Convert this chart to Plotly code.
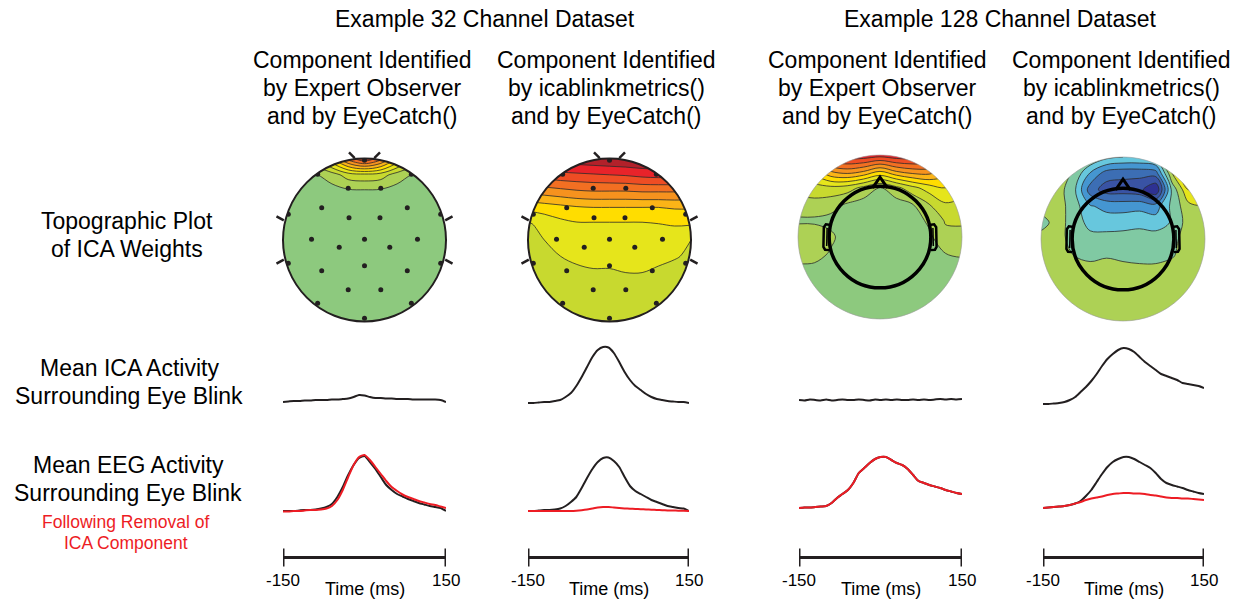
import numpy as np
import plotly.graph_objects as go

W, H = 1242, 599

# ---------------------------------------------------------------- data
dataset_titles = ["Example 32 Channel Dataset", "Example 128 Channel Dataset"]
column_titles = [
    ["Component Identified", "by Expert Observer", "and by EyeCatch()"],
    ["Component Identified", "by icablinkmetrics()", "and by EyeCatch()"],
    ["Component Identified", "by Expert Observer", "and by EyeCatch()"],
    ["Component Identified", "by icablinkmetrics()", "and by EyeCatch()"],
]
row_labels = [
    ["Topographic Plot", "of ICA Weights"],
    ["Mean ICA Activity", "Surrounding Eye Blink"],
    ["Mean EEG Activity", "Surrounding Eye Blink"],
]
removal_label = ["Following Removal of", "ICA Component"]
time_ticks = [-150, 150]
time_tick_text = ["-150", "150"]
time_label = "Time (ms)"

time_ms = list(range(-150, 151, 10))

# mean ICA activity (arbitrary units) per column
ica_c1 = [3, 3.5, 4, 4, 4.5, 4.5, 5, 5, 5, 5.5, 5.5, 6, 6.5, 8, 10, 9.5, 8, 7, 7, 6.5,
          6.5, 6, 6, 6, 5.5, 5.5, 5.5, 5.5, 5.5, 5, 3]
ica_c2 = [2, 2, 2.5, 3, 3, 4, 5, 8, 12, 19, 28, 38, 48, 55, 58, 57.5, 52, 43, 33, 25,
          19, 15, 11, 8, 6, 5, 4, 3.5, 3, 3, 2]
ica_c3 = [5, 4.5, 5.5, 5, 4.5, 5.5, 4.5, 5, 5.5, 5, 5, 5.5, 5, 4.5, 5.5, 5, 5.5, 5, 5.5, 5,
          5, 5.5, 5, 5.5, 5, 5.5, 6, 5.5, 6, 5.5, 6]
ica_c4 = [1, 1, 1.5, 2, 3, 5, 8, 13, 18, 24, 31, 39, 46, 51, 55, 57, 56, 53, 48, 43,
          39, 35, 31, 29, 27, 25, 22, 21, 20, 19, 17]

# mean EEG activity before (black) and after (red) removal of the component
eeg_c1_before = [4, 4, 4, 4.5, 5, 5, 5.5, 6.5, 8, 11, 18, 28, 40, 50, 57, 59, 53, 46, 38, 30,
                 25, 21, 18.5, 16, 14, 12, 10.5, 9, 8, 7, 4]
eeg_c1_after = [3.5, 3.5, 4, 4, 4.5, 5, 5, 5.5, 6.5, 9, 15, 25, 38, 50, 58, 60, 55, 48, 41, 34,
                28, 24, 20.5, 18, 16, 14, 12.5, 11, 10, 8.5, 7]
eeg_c2_before = [4, 4, 4.5, 5, 5, 5.5, 6.5, 9, 13, 18, 27, 37, 46, 53, 57, 57.5, 54, 48, 38, 29,
                 24, 21, 18, 15, 13, 11, 9, 8, 7, 6.5, 4]
eeg_c2_after = [4, 4, 4, 4, 4, 4, 4, 4, 4, 4.3, 4.8, 5.5, 6.5, 7.5, 8, 8, 7.5, 7, 6.6, 6.3,
                6, 5.8, 5.5, 5.3, 5, 4.8, 4.6, 4.5, 4.3, 4.2, 4]
eeg_c3_before = [7, 7.5, 7.5, 8, 8.5, 9, 12, 17, 21, 25, 32, 42, 47, 52, 56, 58, 58, 55, 52, 50,
                 46, 40, 34, 32, 30, 28.5, 27, 25, 23.5, 22, 21]
eeg_c3_after = [7, 7.5, 7.5, 8, 8.5, 9, 12, 17, 21, 25, 32, 42, 47, 52, 56, 58, 58, 55, 52, 50,
                46, 40, 34, 32, 30, 28.5, 27, 25, 23.5, 22, 21]
eeg_c4_before = [7, 7.5, 8, 8.5, 9, 10, 11.5, 14, 19, 25, 33, 41, 48, 53, 56, 58, 58, 56, 53, 50,
                 47, 42, 36, 32, 30, 28.5, 27, 25, 23.5, 22, 21]
eeg_c4_after = [7, 7.5, 8, 8.5, 9, 10, 11.5, 13, 15, 16.5, 17.5, 18.5, 20, 21, 21.5, 22, 22, 21.5,
                21.5, 21, 20, 19.5, 18.5, 17.5, 17, 17, 16.5, 16.5, 16, 15.5, 15]

# 32-channel electrode positions (head radius = 1)
elec_x = [0, -0.575, 0.575, -0.2, 0.2, -0.525, 0.525, -0.935, 0.935, -0.19, 0.19, -0.65, 0,
          0.65, -0.31, 0.31, -0.935, 0.935, 0, -0.525, 0.525, -0.2, 0.2, -0.575, 0.575, 0]
elec_y = [0.98, 0.806, 0.806, 0.634, 0.634, 0.397, 0.397, 0.315, 0.315, 0.274, 0.274, 0.008,
          0.008, 0.008, -0.09, -0.09, -0.286, -0.286, -0.315, -0.376, -0.376, -0.609, -0.609,
          -0.777, -0.777, -0.961]

# topographic weight maps sampled on an 11x11 grid (x,y from -1..1), rows listed top -> bottom
# values are colour-band indices of each map's palette
grid_coord = [-1.0, -0.8, -0.6, -0.4, -0.2, 0.0, 0.2, 0.4, 0.6, 0.8, 1.0]
Z0 = [0] * 11
topo_c1 = [
    [0.3, 1.2, 2.5, 4.5, 7.0, 8.5, 7.0, 4.5, 2.5, 1.2, 0.3],
    [0.0, 0.2, 0.4, 1.0, 2.0, 2.2, 2.0, 1.0, 0.4, 0.2, 0.0],
    [0.0, 0.0, 0.0, 0.1, 0.3, 0.35, 0.3, 0.1, 0.0, 0.0, 0.0],
    Z0, Z0, Z0, Z0, Z0, Z0, Z0, Z0,
]
topo_c2 = [
    [9.5, 9.8, 10.0, 10.2, 10.3, 10.4, 10.5, 10.6, 10.6, 10.5, 10.3],
    [7.8, 8.0, 8.2, 8.3, 8.4, 8.5, 8.6, 8.8, 8.9, 8.9, 8.8],
    [5.8, 6.0, 6.2, 6.4, 6.5, 6.5, 6.5, 6.6, 6.6, 6.6, 6.5],
    [3.8, 4.0, 4.2, 4.4, 4.5, 4.5, 4.5, 4.5, 4.5, 4.6, 4.6],
    [2.4, 2.8, 3.2, 3.4, 3.4, 3.4, 3.4, 3.4, 3.5, 3.6, 3.6],
    [2.2, 2.5, 2.8, 3.0, 3.0, 3.0, 3.0, 3.0, 3.0, 2.9, 2.5],
    [2.1, 2.3, 2.5, 2.7, 2.8, 2.8, 2.8, 2.8, 2.8, 2.6, 2.3],
    [2.0, 2.1, 2.2, 2.3, 2.4, 2.4, 2.5, 2.5, 2.3, 2.1, 2.0],
    [2.0, 2.0, 2.0, 2.1, 2.1, 2.1, 2.1, 2.1, 2.0, 2.0, 2.0],
    [2.0] * 11,
    [2.0] * 11,
]
topo_c3 = [
    [6.0, 7.5, 9.0, 9.3, 9.3, 9.0, 9.3, 9.3, 9.0, 7.5, 6.0],
    [3.0, 4.0, 5.5, 6.0, 5.5, 4.5, 5.5, 6.0, 6.0, 5.0, 4.0],
    [1.8, 2.0, 2.2, 2.0, 1.2, 0.4, 1.2, 2.2, 3.0, 3.5, 3.0],
    [1.2, 1.2, 0.9, 0.4, 0.1, 0.0, 0.1, 0.5, 1.5, 2.4, 2.2],
    [0.3, 0.3, 0.2, 0.0, 0.0, 0.0, 0.0, 0.0, 0.7, 1.6, 1.6],
    [1.3, 1.2, 0.7, 0.0, 0.0, 0.0, 0.0, 0.0, 0.3, 1.2, 1.3],
    [1.0, 0.9, 0.4, 0.0, 0.0, 0.0, 0.0, 0.0, 0.0, 0.5, 0.6],
    [0.2, 0.2, 0.0, 0.0, 0.0, 0.0, 0.0, 0.0, 0.0, 0.0, 0.2],
    Z0, Z0, Z0,
]
topo_c4 = [
    [6.0, 6.0, 6.0, 5.6, 4.8, 4.5, 4.5, 5.0, 8.0, 8.5, 7.5],
    [6.0, 6.0, 5.4, 3.4, 2.0, 1.8, 1.8, 2.0, 6.5, 9.0, 8.0],
    [6.0, 6.0, 4.8, 2.0, 1.0, 1.0, 0.8, -0.5, 4.8, 7.5, 7.0],
    [6.0, 6.0, 5.0, 3.6, 3.2, 3.1, 3.2, 3.0, 4.8, 6.2, 6.5],
    [5.0, 6.0, 5.0, 4.2, 4.0, 4.1, 4.2, 4.0, 4.6, 6.0, 6.5],
    [6.0, 5.8, 5.2, 4.8, 4.9, 4.9, 5.0, 5.0, 5.2, 6.0, 6.5],
    [6.0, 6.0, 5.5, 5.2, 5.4, 5.2, 5.0, 5.0, 5.4, 6.0, 6.0],
    [6.0] * 11, [6.0] * 11, [6.0] * 11, [6.0] * 11,
]

palette_warm = ["#8DC97E", "#ADD155", "#C8D92F", "#E6E51B", "#FFDD00", "#FBB417",
                "#F6921E", "#F26F22", "#EE4D24", "#E8232A", "#B2212A"]
palette_cool = ["#2E3192", "#3953A4", "#3C6EB4", "#4596D1", "#67C7DD", "#80C9A3",
                "#ADD155", "#E6E51B", "#FFDD00", "#FBB417"]

# ---------------------------------------------------------------- layout geometry (pixels)
FONT = "Liberation Sans, Arial, Helvetica, sans-serif"
BLACK = "#231F20"
RED = "#ED1C24"

topo_center = [(364.5, 240), (609.5, 240), (880, 237), (1123, 239)]
topo_radius = [81.5, 81.5, 82, 82]
time_px = [(283, 446), (528, 689), (799, 962), (1043, 1204)]
header_cx = [362, 606, 877, 1121]

fig = go.Figure()
layout = {}
shapes = []
annotations = []


def ax(name, n):
    return name if n == 1 else f"{name}{n}"


def px_x(p):
    return p / W


def px_y(p):
    return 1 - p / H


def circle_pts(r, cx=0.0, cy=0.0, n=160):
    a = np.linspace(0, 2 * np.pi, n, endpoint=False)
    return cx + r * np.cos(a), cy + r * np.sin(a)


def poly_path(xs, ys, close=True):
    s = "M " + " L ".join(f"{x:.4f},{y:.4f}" for x, y in zip(xs, ys))
    return s + (" Z" if close else "")


R = 1.2  # topo axis half-range
topos = [(topo_c1, palette_warm, True), (topo_c2, palette_warm, True),
         (topo_c3, palette_warm, False), (topo_c4, palette_cool, False)]

for c in range(4):
    n = c + 1
    cx, cy = topo_center[c]
    half = topo_radius[c] * R
    xr = f"x{n}" if n > 1 else "x"
    yr = f"y{n}" if n > 1 else "y"
    layout[ax("xaxis", n)] = dict(domain=[px_x(cx - half), px_x(cx + half)], range=[-R, R],
                                  visible=False, anchor=yr, fixedrange=True)
    layout[ax("yaxis", n)] = dict(domain=[px_y(cy + half), px_y(cy - half)], range=[-R, R],
                                  visible=False, anchor=xr, fixedrange=True)
    grid, pal, is32 = topos[c]
    nb = len(pal)
    z = np.array(grid[::-1], dtype=float)
    fig.add_trace(go.Contour(
        x=grid_coord, y=grid_coord, z=z, xaxis=xr, yaxis=yr,
        autocontour=False,
        contours=dict(start=0.5, end=nb - 1.5, size=1, coloring="fill", showlines=True),
        colorscale=[[k / (nb - 1), col] for k, col in enumerate(pal)],
        zmin=0, zmax=nb - 1,
        line=dict(color="#2b2b2b", width=0.8, smoothing=1.0),
        showscale=False, hoverinfo="skip",
    ))
    # white mask outside the scalp disc
    mx, my = circle_pts(1.0)
    mask = f"M {-R},{-R} L {R},{-R} L {R},{R} L {-R},{R} Z " + poly_path(mx, my)
    shapes.append(dict(type="path", path=mask, xref=xr, yref=yr, fillcolor="white",
                       fillrule="evenodd", line=dict(width=0), layer="above"))
    if is32:
        fig.add_trace(go.Scatter(x=elec_x, y=elec_y, xaxis=xr, yaxis=yr, mode="markers",
                                 marker=dict(color=BLACK, size=5), hoverinfo="skip"))
        shapes.append(dict(type="circle", x0=-1, x1=1, y0=-1, y1=1, xref=xr, yref=yr,
                           line=dict(color=BLACK, width=2), layer="above"))
        for sx in (-1, 1):
            shapes.append(dict(type="path", xref=xr, yref=yr, layer="above",
                               path=f"M {sx*0.19},1.075 L {sx*0.12},1.005",
                               line=dict(color=BLACK, width=2.5)))
            for sy in (-1, 1):
                shapes.append(dict(type="path", xref=xr, yref=yr, layer="above",
                                   path=f"M {sx*1.08},{sy*0.29} L {sx*0.99},{sy*0.24}",
                                   line=dict(color=BLACK, width=2.5)))
    else:
        shapes.append(dict(type="circle", x0=-1, x1=1, y0=-1, y1=1, xref=xr, yref=yr,
                           line=dict(color="#9a9a9a", width=0.6), layer="above"))
        hr = 0.62
        shapes.append(dict(type="circle", x0=-hr, x1=hr, y0=-hr, y1=hr, xref=xr, yref=yr,
                           line=dict(color="black", width=3.5), layer="above"))
        shapes.append(dict(type="path", xref=xr, yref=yr, layer="above",
                           path=f"M -0.09,{hr-0.02} L 0,0.73 L 0.09,{hr-0.02}",
                           line=dict(color="black", width=3)))
        for sx in (-1, 1):
            shapes.append(dict(type="path", xref=xr, yref=yr, layer="above",
                               path=(f"M {sx*hr},0.15 L {sx*0.66},0.155 L {sx*0.685},0.12 "
                                     f"L {sx*0.69},-0.12 L {sx*0.67},-0.155 L {sx*hr},-0.16"),
                               line=dict(color="black", width=2.5)))
            shapes.append(dict(type="path", xref=xr, yref=yr, layer="above",
                               path=f"M {sx*0.645},0.11 L {sx*0.65},-0.11",
                               line=dict(color="black", width=1.5)))

# ---------------------------------------------------------------- time-course panels
ica_all = [ica_c1, ica_c2, ica_c3, ica_c4]
eeg_before = [eeg_c1_before, eeg_c2_before, eeg_c3_before, eeg_c4_before]
eeg_after = [eeg_c1_after, eeg_c2_after, eeg_c3_after, eeg_c4_after]

ICA_PX = (330, 415, 405)   # top, bottom, zero line
EEG_PX = (440, 525, 515)
BAR_PX = (547, 568)

for c in range(4):
    xn = 5 + c
    y_ica, y_eeg, y_bar = 5 + c, 9 + c, 13 + c
    x0, x1 = time_px[c]
    layout[f"xaxis{xn}"] = dict(domain=[px_x(x0), px_x(x1)], range=[-150, 150], visible=False,
                                anchor=f"y{y_bar}", fixedrange=True)
    for yn, (top, bot, zero) in ((y_ica, ICA_PX), (y_eeg, EEG_PX)):
        layout[f"yaxis{yn}"] = dict(domain=[px_y(bot), px_y(top)], range=[zero - bot, zero - top],
                                    visible=False, anchor=f"x{xn}", fixedrange=True)
    layout[f"yaxis{y_bar}"] = dict(domain=[px_y(BAR_PX[1]), px_y(BAR_PX[0])], range=[-1, 1],
                                   visible=False, anchor=f"x{xn}", fixedrange=True)

    fig.add_trace(go.Scatter(x=time_ms, y=ica_all[c], xaxis=f"x{xn}", yaxis=f"y{y_ica}",
                             mode="lines", line=dict(color=BLACK, width=2, shape="spline", smoothing=0.6),
                             hoverinfo="skip"))
    fig.add_trace(go.Scatter(x=time_ms, y=eeg_before[c], xaxis=f"x{xn}", yaxis=f"y{y_eeg}",
                             mode="lines", line=dict(color=BLACK, width=2, shape="spline", smoothing=0.6),
                             hoverinfo="skip"))
    fig.add_trace(go.Scatter(x=time_ms, y=eeg_after[c], xaxis=f"x{xn}", yaxis=f"y{y_eeg}",
                             mode="lines", line=dict(color=RED, width=2, shape="spline", smoothing=0.6),
                             hoverinfo="skip"))
    # time scale bar
    fig.add_trace(go.Scatter(x=time_ticks, y=[0, 0], xaxis=f"x{xn}", yaxis=f"y{y_bar}",
                             mode="lines+markers", line=dict(color=BLACK, width=3),
                             marker=dict(symbol="line-ns-open", size=13,
                                         line=dict(color=BLACK, width=3)),
                             hoverinfo="skip"))
    for tv, tt in zip(time_ticks, time_tick_text):
        annotations.append(dict(x=tv, y=px_y(580), xref=f"x{xn}", yref="paper", text=tt,
                                showarrow=False, xanchor="center", yanchor="middle",
                                font=dict(family=FONT, size=17, color="black")))
    annotations.append(dict(x=0, y=px_y(589), xref=f"x{xn}", yref="paper", text=time_label,
                            showarrow=False, xanchor="center", yanchor="middle",
                            font=dict(family=FONT, size=18, color="black")))

# ---------------------------------------------------------------- text


def label(text, cx, cy, size=23, color="black"):
    annotations.append(dict(x=px_x(cx), y=px_y(cy), xref="paper", yref="paper", text=text,
                            showarrow=False, xanchor="center", yanchor="middle",
                            font=dict(family=FONT, size=size, color=color)))


label(dataset_titles[0], 485, 19)
label(dataset_titles[1], 1000, 19)
for c in range(4):
    for i, line in enumerate(column_titles[c]):
        label(line, header_cx[c], 60 + 28 * i)

row_y = [221, 368, 465]
row_cx = [127, 129, 128]
for r in range(3):
    for i, line in enumerate(row_labels[r]):
        label(line, row_cx[r], row_y[r] + 28 * i)
label(removal_label[0], 125, 522, size=17.5, color=RED)
label(removal_label[1], 126, 543, size=17.5, color=RED)

fig.update_layout(
    width=W, height=H, margin=dict(l=0, r=0, t=0, b=0),
    paper_bgcolor="white", plot_bgcolor="rgba(0,0,0,0)",
    showlegend=False, hovermode=False,
    shapes=shapes, annotations=annotations, **layout,
)
fig.write_html("out.html")
